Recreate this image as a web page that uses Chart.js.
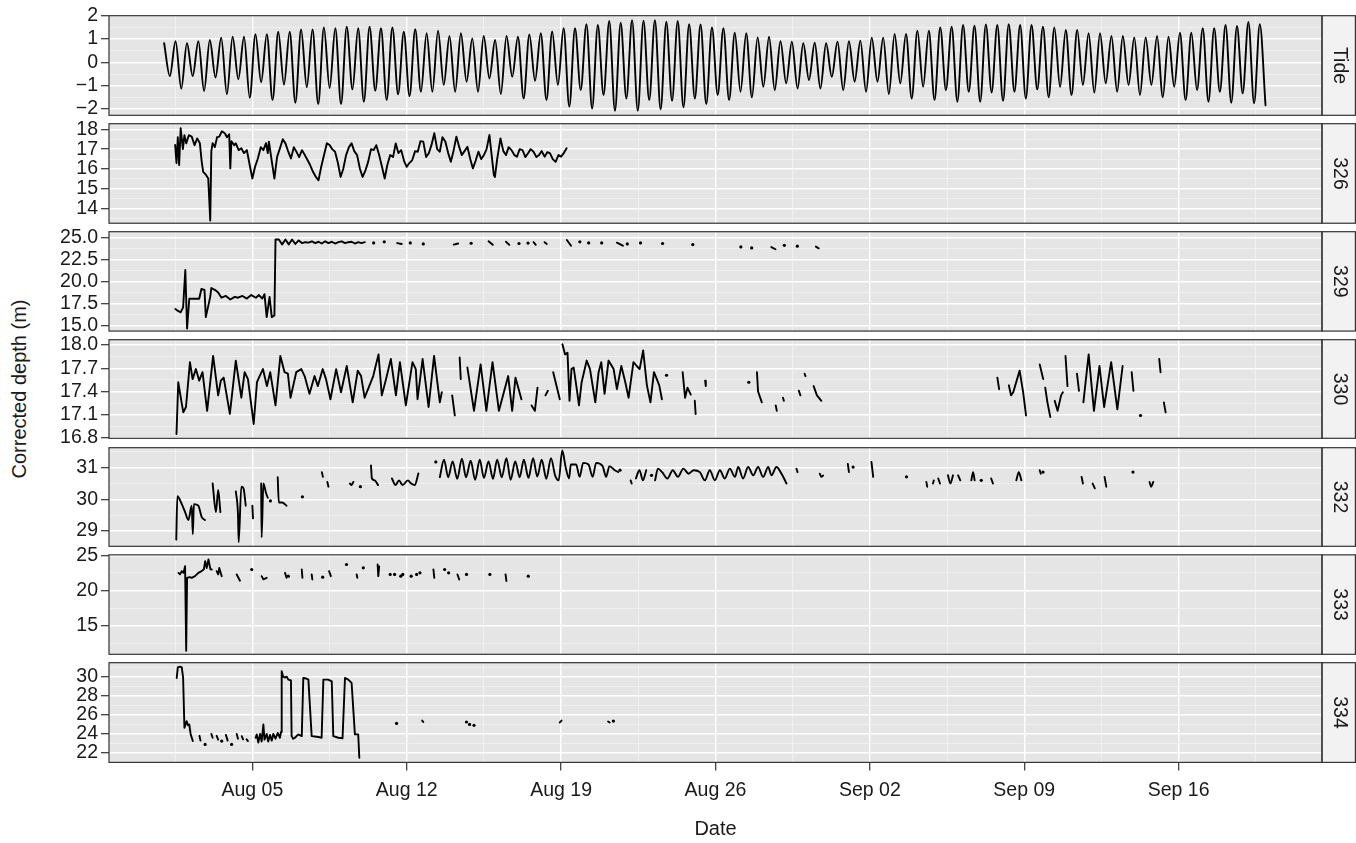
<!DOCTYPE html>
<html>
<head>
<meta charset="utf-8">
<title>Corrected depth by tag</title>
<script src="https://cdn.jsdelivr.net/npm/chart.js@4.4.1/dist/chart.umd.min.js"></script>
<style>
  html, body { margin: 0; padding: 0; background: #ffffff; }
  #wrap { position: relative; width: 1356px; height: 843px; overflow: hidden; background: #ffffff; }
  #wrap canvas { position: absolute; left: 0; }
  #ytitle {
    position: absolute; left: 19px; top: 389px;
    transform: translate(-50%, -50%) rotate(-90deg);
    font-family: 'Liberation Sans', Arial, Helvetica, sans-serif; font-size: 20px;
    color: #1a1a1a; white-space: nowrap; line-height: 1;
  }
</style>
</head>
<body>
<div id="wrap"><div id="ytitle">Corrected depth (m)</div></div>
<script>
// ---- time axis (days after 1 Aug) ----
const xTickDays   = [4, 11, 18, 25, 32, 39, 46];
const xTickLabels = ['Aug 05', 'Aug 12', 'Aug 19', 'Aug 26', 'Sep 02', 'Sep 09', 'Sep 16'];
const xMinorDays  = [0.5, 7.5, 14.5, 21.5, 28.5, 35.5, 42.5, 49.5];

// ---- tide: successive high and low waters (m), half a lunar day apart ----
const tideStepDays = 0.25875;
const tideHigh = [0.82,0.91,0.82,0.91,0.96,1.06,1.10,1.10,1.21,1.21,1.31,1.31,1.41,1.41,1.50,1.46,1.53,1.46,1.53,1.46,1.50,1.31,1.42,
  1.25,1.36,1.13,1.25,1.03,1.13,0.96,1.13,1.10,1.20,1.25,1.32,1.46,1.46,1.64,1.60,1.77,1.70,1.81,1.79,
  1.81,1.74,1.77,1.64,1.63,1.50,1.46,1.27,1.25,1.07,1.10,0.91,0.89,0.82,0.84,0.82,0.89,0.91,0.93,1.06,
  1.06,1.22,1.22,1.36,1.36,1.50,1.53,1.60,1.57,1.63,1.60,1.64,1.60,1.60,1.53,1.50,1.39,1.39,1.25,1.25,
  1.13,1.13,1.07,1.07,1.13,1.10,1.27,1.27,1.46,1.46,1.60,1.56,1.73,1.64];
const tideLow = [-0.59,-1.13,-0.59,-1.23,-0.65,-1.37,-0.73,-1.52,-0.85,-1.62,-0.96,-1.73,-1.07,-1.79,-1.10,-1.79,-1.16,-1.69,-1.22,-1.62,-1.37,-1.45,
  -1.26,-1.26,-0.97,-1.26,-0.83,-1.26,-0.69,-1.36,-0.62,-1.55,-0.79,-1.62,-0.97,-1.90,-1.19,-1.98,-1.40,-2.08,-1.55,-2.08,
  -1.62,-2.02,-1.65,-1.93,-1.55,-1.79,-1.40,-1.62,-1.26,-1.50,-1.05,-1.19,-0.90,-1.12,-0.76,-1.12,-0.62,-1.19,-0.83,-1.26,
  -0.83,-1.36,-0.90,-1.55,-1.05,-1.62,-1.19,-1.69,-1.26,-1.69,-1.29,-1.65,-1.26,-1.55,-1.16,-1.50,-1.05,-1.40,-0.97,-1.30,
  -0.90,-1.26,-0.97,-1.40,-0.97,-1.50,-1.05,-1.62,-1.19,-1.69,-1.26,-1.73,-1.33,-1.76,-1.84];

// ---- tag depth records: [day, corrected depth m], null marks a gap ----
const depth326 = [[0.5,17.21],[0.56,16.3],[0.62,17.6],[0.68,16.2],[0.75,18.05],[0.85,17.0],[0.92,17.7],[1.0,17.29],[1.12,17.7],[1.25,17.63],
  [1.38,17.2],[1.5,17.54],[1.62,17.3],[1.7,16.4],[1.77,15.86],[1.9,15.7],[2.0,15.52],[2.09,13.41],[2.14,16.9],[2.2,17.3],[2.3,17.1],
  [2.4,17.6],[2.5,17.63],[2.62,17.9],[2.75,17.8],[2.85,17.6],[2.95,17.75],[3.0,16.03],[3.05,17.4],[3.18,17.2],[3.25,17.29],[3.38,16.95],
  [3.5,17.04],[3.62,16.8],[3.75,16.95],[3.88,16.2],[4.0,15.52],[4.12,16.1],[4.25,16.53],[4.38,17.1],[4.5,16.95],[4.62,17.3],[4.7,16.8],
  [4.75,17.38],[4.88,16.4],[5.0,15.52],[5.12,16.6],[5.25,17.04],[5.38,17.5],[5.5,17.29],[5.62,16.9],[5.75,16.53],[5.88,17.1],[6.0,16.87],
  [6.12,16.6],[6.25,16.95],[6.38,16.7],[6.5,16.45],[6.62,16.2],[6.75,15.86],[6.88,15.6],[7.0,15.43],[7.12,16.1],[7.25,16.7],[7.38,17.3],
  [7.5,17.21],[7.62,17.0],[7.75,16.87],[7.88,16.3],[8.0,15.6],[8.12,16.0],[8.25,16.7],[8.38,17.1],[8.5,17.29],[8.62,16.9],[8.75,16.7],
  [8.88,16.0],[9.0,15.6],[9.12,15.9],[9.25,16.36],[9.38,17.0],[9.5,16.95],[9.62,17.2],[9.75,16.7],[9.88,16.1],[10.0,15.52],[10.12,16.2],
  [10.25,16.7],[10.38,16.6],[10.5,17.29],[10.62,16.8],[10.75,16.95],[10.88,16.4],[11.0,16.11],[11.12,16.3],[11.25,16.45],[11.38,16.9],
  [11.5,16.87],[11.62,17.4],[11.75,17.38],[11.88,16.6],[12.0,16.79],[12.12,17.2],[12.25,17.8],[12.38,17.0],[12.5,16.87],[12.62,17.6],
  [12.75,17.38],[12.88,16.8],[13.0,16.36],[13.12,16.9],[13.25,17.63],[13.38,17.1],[13.5,16.7],[13.62,16.9],[13.75,17.12],[13.88,16.5],
  [14.0,16.03],[14.12,16.4],[14.25,16.87],[14.38,16.5],[14.5,16.7],[14.62,17.0],[14.75,17.71],[14.88,16.4],[14.95,15.7],[15.0,15.6],
  [15.1,16.5],[15.25,17.54],[15.38,16.9],[15.5,16.7],[15.62,17.1],[15.75,16.95],[15.88,16.7],[16.0,16.62],[16.12,17.0],[16.25,16.95],
  [16.38,16.6],[16.5,16.79],[16.62,17.0],[16.75,16.87],[16.88,16.6],[17.0,16.7],[17.12,16.9],[17.25,16.62],[17.38,16.85],[17.5,16.79],
  [17.62,16.5],[17.75,16.36],[17.88,16.7],[18.0,16.62],[18.12,16.8],[18.25,17.04]];

const depth329 = [[0.51,16.92],[0.61,16.73],[0.75,16.54],[0.86,17.1],[0.96,21.35],[1.04,14.7],[1.14,18.08],[1.59,18.08],[1.69,19.2],[1.83,19.1],
  [1.89,16.0],[2.09,18.3],[2.14,19.3],[2.3,19.1],[2.45,18.8],[2.6,18.2],[2.8,18.4],[3.0,18.0],[3.2,18.3],[3.35,18.2],[3.55,18.4],[3.75,18.1],
  [3.95,18.5],[4.16,18.2],[4.3,18.5],[4.45,18.1],[4.55,18.6],[4.65,16.0],[4.78,18.3],[4.88,16.0],[5.0,16.2],[5.05,24.8],
  [5.2,24.8],[5.35,24.25],[5.5,24.8],[5.65,24.25],[5.8,24.8],[5.95,24.3],[6.1,24.7],[6.25,24.4],[6.4,24.5],[6.55,24.45],[6.7,24.6],[6.85,24.4],
  [7.0,24.55],[7.15,24.35],[7.3,24.6],[7.45,24.4],[7.6,24.55],[7.75,24.35],[7.9,24.5],[8.05,24.6],[8.2,24.4],[8.35,24.5],[8.5,24.55],
  [8.65,24.35],[8.8,24.5],[8.95,24.4],[9.1,24.5], null,
  [9.5,24.42], null, [9.98,24.54], null, [10.57,24.4],[10.77,24.3], null, [11.16,24.42], null, [11.75,24.3], null,
  [13.13,24.23],[13.33,24.35], null, [13.92,24.38], null, [14.71,24.6],[14.9,24.2], null, [15.5,24.55],[15.65,24.2], null,
  [16.09,24.35], null, [16.5,24.4], null, [16.75,24.5],[16.85,24.2], null, [17.25,24.5],[17.35,24.3], null,
  [18.26,24.75],[18.45,24.1], null, [18.85,24.54], null, [19.25,24.42], null, [19.84,24.42], null, [20.53,24.45],[20.8,24.1], null,
  [21.0,24.3], null, [21.6,24.42], null, [22.6,24.35], null, [23.97,24.23], null, [26.15,23.96], null, [26.64,23.85], null,
  [27.53,23.95],[27.72,23.7], null, [28.12,24.15], null, [28.71,24.05], null, [29.55,24.0],[29.68,23.8]];

const depth330 = [[0.56,16.85],[0.64,17.52],[0.79,17.26],[0.87,17.13],[0.99,17.2],[1.17,17.78],[1.29,17.56],[1.44,17.69],[1.59,17.54],
  [1.74,17.65],[1.95,17.15],[2.22,17.86],[2.45,17.35],[2.57,17.54],[2.7,17.58],[2.98,17.11],[3.25,17.8],[3.5,17.32],[3.65,17.65],
  [3.8,17.56],[4.06,16.98],[4.21,17.52],[4.33,17.6],[4.48,17.69],[4.66,17.47],[4.81,17.65],[5.05,17.22],[5.27,17.86],[5.46,17.65],
  [5.61,17.63],[5.73,17.32],[5.99,17.65],[6.22,17.69],[6.37,17.6],[6.59,17.37],[6.82,17.6],[6.97,17.47],[7.19,17.69],[7.34,17.56],
  [7.54,17.3],[7.8,17.69],[8.02,17.39],[8.28,17.73],[8.55,17.26],[8.78,17.67],[8.93,17.6],[9.09,17.32],[9.3,17.47],[9.48,17.6],
  [9.72,17.88],[9.87,17.35],[10.06,17.56],[10.28,17.82],[10.51,17.35],[10.69,17.78],[10.96,17.22],[11.26,17.78],[11.41,17.69],
  [11.49,17.3],[11.72,17.82],[11.99,17.2],[12.24,17.86],[12.5,17.26],[12.59,17.39], null,
  [13.06,17.35],[13.18,17.09], null, [13.4,17.84],[13.45,17.56], null,
  [13.75,17.71],[14.05,17.15],[14.35,17.75],[14.61,17.15],[14.89,17.78],[15.18,17.15],[15.6,17.6],[15.78,17.15],[15.93,17.58],[16.2,17.3], null,
  [16.66,17.22],[16.81,17.15],[16.93,17.45], null, [17.29,17.35],[17.4,17.41], null, [17.64,17.65],[17.94,17.3], null,
  [18.06,18.01],[18.18,17.88],[18.29,17.9],[18.38,17.28],[18.47,17.69],[18.57,17.71],[18.72,17.41],[18.81,17.22],[18.93,17.52],
  [19.16,17.8],[19.31,17.69],[19.55,17.26],[19.7,17.65],[19.82,17.78],[19.97,17.37],[20.15,17.8],[20.38,17.69],[20.53,17.43],
  [20.73,17.73],[20.91,17.52],[21.06,17.32],[21.28,17.78],[21.43,17.73],[21.56,17.69],[21.72,17.93],[21.89,17.48],[22.05,17.26],
  [22.21,17.65],[22.34,17.56],[22.45,17.48],[22.57,17.3], null,
  [22.78,17.61], null, [23.51,17.65],[23.62,17.32],[23.73,17.45],[23.88,17.36], null, [24.06,17.28],[24.1,17.11], null,
  [24.53,17.54],[24.56,17.47], null, [26.51,17.52], null, [26.88,17.65],[26.93,17.4],[27.1,17.26], null,
  [27.73,17.22],[27.78,17.15], null, [28.06,17.32],[28.1,17.28], null, [28.78,17.41],[28.85,17.35], null,
  [29.04,17.63],[29.08,17.6], null, [29.45,17.47],[29.6,17.35],[29.8,17.28], null,
  [37.78,17.58],[37.86,17.43], null, [38.3,17.48],[38.4,17.35],[38.5,17.39],[38.79,17.67],[38.95,17.39],[39.08,17.09], null,
  [39.7,17.75],[39.86,17.56], null, [39.95,17.45],[40.05,17.26],[40.18,17.07], null,
  [40.38,17.28],[40.51,17.15],[40.67,17.35],[40.75,17.39], null, [40.87,17.86],[40.96,17.47], null,
  [41.39,17.63],[41.48,17.41], null,
  [41.68,17.26],[41.92,17.88],[42.16,17.15],[42.41,17.73],[42.62,17.2],[42.94,17.78],[43.22,17.17],[43.46,17.73], null,
  [43.87,17.65],[43.95,17.41], null, [44.27,17.09], null, [45.12,17.82],[45.18,17.65], null, [45.33,17.26],[45.41,17.13]];

const depth332 = [[0.55,28.73],[0.6,30.1],[0.8,29.85],[0.95,29.6],[1.1,29.35],[1.25,29.8],[1.3,28.9],[1.35,29.85],[1.55,29.8],[1.7,29.45],[1.85,29.35], null,
  [2.2,30.5],[2.35,29.6],[2.45,30.3],[2.55,29.6], null,
  [3.25,30.25],[3.35,29.5],[3.38,28.65],[3.5,30.4],[3.6,30.35],[3.7,29.8], null, [4.0,29.8],[4.03,29.4], null,
  [4.4,30.5],[4.42,28.8],[4.5,30.5],[4.62,30.2],[4.7,30.05], null, [4.82,29.95], null,
  [5.15,30.7],[5.2,29.9],[5.35,29.9],[5.55,29.8], null, [6.27,30.08], null,
  [7.15,30.86],[7.2,30.71], null, [7.4,30.55],[7.45,30.4], null, [8.42,30.5],[8.5,30.45],[8.58,30.55], null, [8.9,30.4], null,
  [9.38,31.07],[9.42,30.66],[9.55,30.6],[9.7,30.45], null,
  [10.33,30.66],[10.49,30.45],[10.65,30.6],[10.81,30.45],[11.05,30.6],[11.2,30.5],[11.36,30.45],[11.53,30.82], null, [12.32,31.18], null,
  [12.5,30.7],[12.69,31.25],[12.88,30.7],[13.08,31.2],[13.29,30.65],[13.5,31.28],[13.69,30.7],[13.9,31.22],[14.1,30.62],[14.31,31.25],
  [14.5,30.68],[14.71,31.2],[14.91,30.65],[15.1,31.25],[15.31,30.7],[15.52,31.3],[15.71,30.62],[15.92,31.2],[16.12,30.7],[16.31,31.25],
  [16.52,30.68],[16.73,31.3],[16.92,30.72],[17.12,31.25],[17.33,30.65],[17.54,31.3],[17.73,30.75],[17.89,30.6],[18.05,31.54],[18.21,31.0],
  [18.36,30.66],[18.44,31.1],[18.68,31.1],[18.84,30.71],[19.0,31.15],[19.24,31.1],[19.43,30.71],[19.59,31.15],[19.88,31.05],[20.04,30.71],
  [20.19,31.05],[20.43,30.92],[20.59,30.86], null, [20.67,30.92], null, [21.15,30.6],[21.2,30.5], null,
  [21.39,30.66],[21.55,30.92],[21.71,30.6],[21.86,30.92], null, [22.1,30.76], null,
  [22.26,30.6],[22.39,30.97],[22.58,30.86],[22.82,30.66],[23.06,30.92],[23.3,30.71],[23.54,30.97],[23.78,30.81],[24.01,30.92],[24.29,30.86],
  [24.52,30.6],[24.74,30.92],[24.97,30.6],[25.2,30.92],[25.42,30.66],[25.65,30.97],[25.88,30.71],[26.03,31.02],[26.25,30.66],[26.48,31.02],
  [26.71,30.76],[26.93,31.02],[27.16,30.71],[27.39,31.02],[27.54,30.76],[27.76,31.02],[28.0,30.8],[28.22,30.5], null,
  [28.67,30.97],[28.72,30.86], null, [29.73,30.81],[29.8,30.71],[29.88,30.75], null,
  [31.0,31.12],[31.05,30.86], null, [31.24,31.02], null, [32.07,31.18],[32.15,30.71], null, [33.66,30.71], null,
  [34.56,30.55],[34.6,30.4], null, [34.86,30.5],[34.9,30.6], null, [35.1,30.66],[35.18,30.5], null,
  [35.54,30.76],[35.65,30.5],[35.77,30.76], null, [36.0,30.76],[36.1,30.6], null, [36.6,30.6],[36.68,30.86],[36.75,30.6], null,
  [37.05,30.6], null, [37.5,30.66],[37.58,30.5], null, [38.64,30.6],[38.75,30.86],[38.87,30.6], null,
  [39.7,30.92],[39.75,30.81], null, [39.85,30.86], null, [41.6,30.71],[41.66,30.5], null, [42.1,30.5],[42.2,30.35], null,
  [42.64,30.71],[42.72,30.4], null, [43.93,30.86], null, [44.68,30.55],[44.75,30.4],[44.85,30.55]];

const depth333 = [[0.65,22.5],[0.72,22.3],[0.8,22.75],[0.88,22.5],[0.95,23.45],[1.0,11.5],[1.04,21.8],[1.15,21.9],[1.25,21.81],[1.4,22.04],
  [1.55,22.5],[1.7,22.75],[1.8,23.0],[1.86,24.15],[1.93,23.2],[2.01,24.4],[2.1,23.0],[2.16,22.98], null,
  [2.38,22.75],[2.45,22.3],[2.5,23.2],[2.61,22.04], null, [3.29,22.28],[3.44,21.4], null, [3.97,22.98], null,
  [4.42,22.04],[4.5,21.6],[4.65,21.81], null, [5.48,22.51],[5.55,21.81], null, [5.63,22.04], null,
  [6.24,22.98],[6.27,21.81], null, [6.69,22.28],[6.72,21.57], null, [7.19,21.9], null, [7.48,22.75],[7.56,22.04], null,
  [8.27,23.69], null, [8.73,22.28],[8.76,21.81], null, [9.03,23.22], null, [9.68,23.69],[9.71,22.04],[9.75,23.4], null,
  [10.25,22.28], null, [10.45,22.28], null, [10.73,22.04], null, [10.82,22.28], null, [11.2,22.04], null, [11.45,22.28], null,
  [11.6,22.51], null, [12.21,22.98],[12.25,21.81], null, [12.72,22.98], null, [12.9,22.51], null, [13.3,22.28],[13.38,21.57], null,
  [13.71,22.28], null, [14.77,22.28], null, [15.48,22.28],[15.52,21.34], null, [16.51,22.04]];

const depth334 = [[0.57,29.86],[0.62,30.97],[0.72,31.05],[0.8,30.97],[0.86,29.9],[0.92,24.64],[1.02,25.34],[1.08,24.9],[1.14,24.99],
  [1.2,24.0],[1.3,23.25], null, [1.6,23.8],[1.65,23.3], null, [1.86,22.9], null, [2.14,24.0],[2.2,23.6], null, [2.38,23.8],[2.45,23.4], null,
  [2.61,23.25], null, [2.8,23.9],[2.88,23.3], null, [3.06,22.9], null, [3.29,24.0],[3.35,23.5], null, [3.52,23.77],[3.58,23.43], null,
  [3.74,23.43],[3.8,23.25], null,
  [4.15,23.6],[4.2,23.95],[4.27,23.1],[4.35,24.0],[4.42,23.2],[4.5,24.99],[4.55,23.4],[4.65,24.0],[4.72,23.2],[4.8,23.9],[4.88,23.3],
  [4.95,24.0],[5.05,23.5],[5.15,24.1],[5.25,23.6],[5.3,24.2],[5.33,30.56],[5.4,30.0],[5.48,29.9],[5.56,30.0],[5.63,29.69],[5.75,29.6],
  [5.78,23.77],[5.85,23.5],[5.93,23.6],[6.08,23.95],[6.24,23.77],[6.31,29.86],[6.45,29.8],[6.54,29.69],[6.69,23.77],[6.92,23.7],
  [7.05,23.65],[7.14,23.6],[7.22,29.69],[7.44,29.69],[7.6,29.51],[7.67,23.77],[7.9,23.6],[8.09,23.55],[8.2,29.86],[8.35,29.69],
  [8.5,29.34],[8.65,23.95],[8.8,23.95],[8.85,21.51], null,
  [10.54,25.1], null, [11.7,25.4],[11.75,25.25], null, [13.71,25.25], null, [13.85,25.0], null, [14.05,24.9], null,
  [17.94,25.2],[18.02,25.4], null, [20.13,25.3],[20.2,25.2], null, [20.37,25.35]];

// ---- facet strip labels and y tick labels ----
const facetLabels = ['Tide', '326', '329', '330', '332', '333', '334'];
const tideTicks = [-2, -1, 0, 1, 2];            const tideTickLabels = ['\u22122', '\u22121', '0', '1', '2'];
const ticks326 = [14, 15, 16, 17, 18];          const labels326 = ['14', '15', '16', '17', '18'];
const ticks329 = [15, 17.5, 20, 22.5, 25];      const labels329 = ['15.0', '17.5', '20.0', '22.5', '25.0'];
const ticks330 = [16.8, 17.1, 17.4, 17.7, 18.0]; const labels330 = ['16.8', '17.1', '17.4', '17.7', '18.0'];
const ticks332 = [29, 30, 31];                  const labels332 = ['29', '30', '31'];
const ticks333 = [15, 20, 25];                  const labels333 = ['15', '20', '25'];
const ticks334 = [22, 24, 26, 28, 30];          const labels334 = ['22', '24', '26', '28', '30'];

// ---- geometry and styling ----
const W = 1356, H = 843;
const PANEL_LEFT = 109, STRIP_W = 34;
const FIRST_TOP = 15.7, PITCH = 107.83, PANEL_H = 99.7, PAD = 14;
const FONT = "'Liberation Sans', Arial, Helvetica, sans-serif";
const TEXT = '#1a1a1a';
const TICK_SIZE = 19.5;
const PANEL_BG = '#E5E5E5', MINOR_GRID = '#F2F2F2', FRAME = '#333333', STRIP_BG = '#F2F2F2';

function tidePoints() {
  const pts = [];
  for (let k = 0; k < tideHigh.length; k++) {
    pts.push({ x: 2 * k * tideStepDays, y: tideHigh[k] });
    if (k < tideLow.length) pts.push({ x: (2 * k + 1) * tideStepDays, y: tideLow[k] });
  }
  return pts;
}

function toPoints(pairs) {
  return pairs.map((p, i) => {
    if (p === null) {
      const a = pairs[i - 1], b = pairs[i + 1];
      return { x: (a[0] + b[0]) / 2, y: null };
    }
    return { x: p[0], y: p[1] };
  });
}

// smooth: tide curve and the rounded swings of tag 332 are drawn as monotone curves
const panels = [
  { data: tidePoints(),       min: -2.27, max: 2.0,   ticks: tideTicks, labels: tideTickLabels, smooth: true },
  { data: toPoints(depth326), min: 13.27, max: 18.28, ticks: ticks326,  labels: labels326 },
  { data: toPoints(depth329), min: 14.42, max: 25.69, ticks: ticks329,  labels: labels329 },
  { data: toPoints(depth330), min: 16.795, max: 18.07, ticks: ticks330, labels: labels330 },
  { data: toPoints(depth332), min: 28.52, max: 31.63, ticks: ticks332,  labels: labels332, smooth: true },
  { data: toPoints(depth333), min: 11.0,  max: 25.05, ticks: ticks333,  labels: labels333 },
  { data: toPoints(depth334), min: 21.02, max: 31.46, ticks: ticks334,  labels: labels334 }
];

// minor gridlines sit halfway between the labelled breaks
function minorBreaks(major, min, max) {
  const step = major[1] - major[0];
  const out = [];
  for (let v = major[0] - step / 2; v <= max + 1e-9; v += step) if (v >= min - 1e-9) out.push(+v.toFixed(4));
  return out;
}
const near = (a, b) => Math.abs(a - b) < 1e-6;

const panelPlugin = {
  id: 'facetPanel',
  beforeDraw(chart) {
    const { ctx, chartArea: a } = chart;
    ctx.save();
    ctx.fillStyle = PANEL_BG;
    ctx.fillRect(a.left, a.top, a.right - a.left, a.bottom - a.top);
    ctx.fillStyle = STRIP_BG;
    ctx.fillRect(a.right, a.top, STRIP_W, a.bottom - a.top);
    ctx.restore();
  },
  afterDraw(chart) {
    const { ctx, chartArea: a } = chart;
    ctx.save();
    ctx.strokeStyle = FRAME;
    ctx.lineWidth = 1.2;
    ctx.strokeRect(a.left, a.top, a.right - a.left, a.bottom - a.top);
    ctx.strokeRect(a.right, a.top, STRIP_W - 0.6, a.bottom - a.top);
    ctx.restore();
  }
};

const wrap = document.getElementById('wrap');
const xAllTicks = xTickDays.concat(xMinorDays).sort((a, b) => a - b);

panels.forEach((p, i) => {
  const isLast = i === panels.length - 1;
  const top = FIRST_TOP + i * PITCH;
  const bottom = top + PANEL_H;
  const canvasTop = Math.floor(top) - PAD;
  const canvasH = isLast ? H - canvasTop : Math.ceil(bottom) + PAD - canvasTop;
  const padTop = top - canvasTop;
  const padBottom = isLast ? 0 : canvasTop + canvasH - bottom;
  const xAxisH = isLast ? H - bottom : 0;

  const canvas = document.createElement('canvas');
  canvas.width = W; canvas.height = canvasH;
  canvas.style.top = canvasTop + 'px';
  canvas.style.width = W + 'px'; canvas.style.height = canvasH + 'px';
  wrap.appendChild(canvas);

  const yMinor = minorBreaks(p.ticks, p.min, p.max);
  const yAll = p.ticks.concat(yMinor).sort((a, b) => a - b);
  const isYMajor = v => p.ticks.some(t => near(t, v));
  const isXMajor = v => xTickDays.some(t => near(t, v));

  const dataset = {
    data: p.data,
    xAxisID: 'x', yAxisID: 'y',
    borderColor: '#000000',
    backgroundColor: '#000000',
    borderWidth: 1.9,
    borderJoinStyle: 'round',
    borderCapStyle: 'round',
    spanGaps: false,
    fill: false,
    pointBorderWidth: 0,
    pointBackgroundColor: '#000000',
    pointRadius: ctx => {
      const d = ctx.dataset.data, k = ctx.dataIndex;
      if (!d[k] || d[k].y === null) return 0;
      const prev = d[k - 1], next = d[k + 1];
      const alone = (!prev || prev.y === null) && (!next || next.y === null);
      return alone ? 1.6 : 0;
    }
  };
  if (p.smooth) { dataset.cubicInterpolationMode = 'monotone'; }
  else { dataset.tension = 0; }

  new Chart(canvas, {
    type: 'line',
    data: { datasets: [dataset] },
    plugins: [panelPlugin],
    options: {
      responsive: false,
      animation: false,
      devicePixelRatio: 1,
      events: [],
      layout: { padding: { top: padTop, bottom: padBottom, left: 0, right: 0 } },
      plugins: { legend: { display: false }, tooltip: { enabled: false } },
      scales: {
        x: {
          type: 'linear', position: 'bottom', min: -2.5, max: 52.5,
          afterBuildTicks: s => { s.ticks = xAllTicks.map(v => ({ value: v })); },
          afterFit: s => { s.height = xAxisH; },
          border: { display: false },
          grid: {
            drawOnChartArea: true,
            drawTicks: isLast,
            tickLength: 8,
            color: c => (c.tick && isXMajor(c.tick.value)) ? '#FFFFFF' : MINOR_GRID,
            lineWidth: c => (c.tick && isXMajor(c.tick.value)) ? 1.4 : 0.8,
            tickColor: c => (c.tick && isXMajor(c.tick.value)) ? FRAME : 'rgba(0,0,0,0)',
            tickWidth: 1.2
          },
          ticks: {
            display: isLast, autoSkip: false, maxRotation: 0, minRotation: 0, padding: 9,
            color: TEXT, font: { family: FONT, size: TICK_SIZE },
            callback: v => { const k = xTickDays.findIndex(t => near(t, v)); return k >= 0 ? xTickLabels[k] : ''; }
          },
          title: { display: isLast, text: 'Date', color: TEXT, font: { family: FONT, size: 20 }, padding: { top: 0, bottom: 2 } }
        },
        y: {
          type: 'linear', position: 'left', min: p.min, max: p.max,
          afterBuildTicks: s => { s.ticks = yAll.map(v => ({ value: v })); },
          afterFit: s => { s.width = PANEL_LEFT; },
          border: { display: false },
          grid: {
            drawTicks: true, tickLength: 8,
            color: c => (c.tick && isYMajor(c.tick.value)) ? '#FFFFFF' : MINOR_GRID,
            lineWidth: c => (c.tick && isYMajor(c.tick.value)) ? 1.4 : 0.8,
            tickColor: c => (c.tick && isYMajor(c.tick.value)) ? FRAME : 'rgba(0,0,0,0)',
            tickWidth: 1.2
          },
          ticks: {
            autoSkip: false, padding: 3, color: TEXT, font: { family: FONT, size: TICK_SIZE },
            callback: v => { const k = p.ticks.findIndex(t => near(t, v)); return k >= 0 ? p.labels[k] : ''; }
          }
        },
        strip: {
          type: 'linear', position: 'right', min: 0, max: 1,
          afterFit: s => { s.width = STRIP_W; },
          border: { display: false },
          grid: { display: false, drawOnChartArea: false },
          ticks: { display: false },
          title: { display: true, text: facetLabels[i], color: TEXT, font: { family: FONT, size: TICK_SIZE }, padding: { top: 5, bottom: 0 } }
        }
      }
    }
  });
});
</script>
</body>
</html>
